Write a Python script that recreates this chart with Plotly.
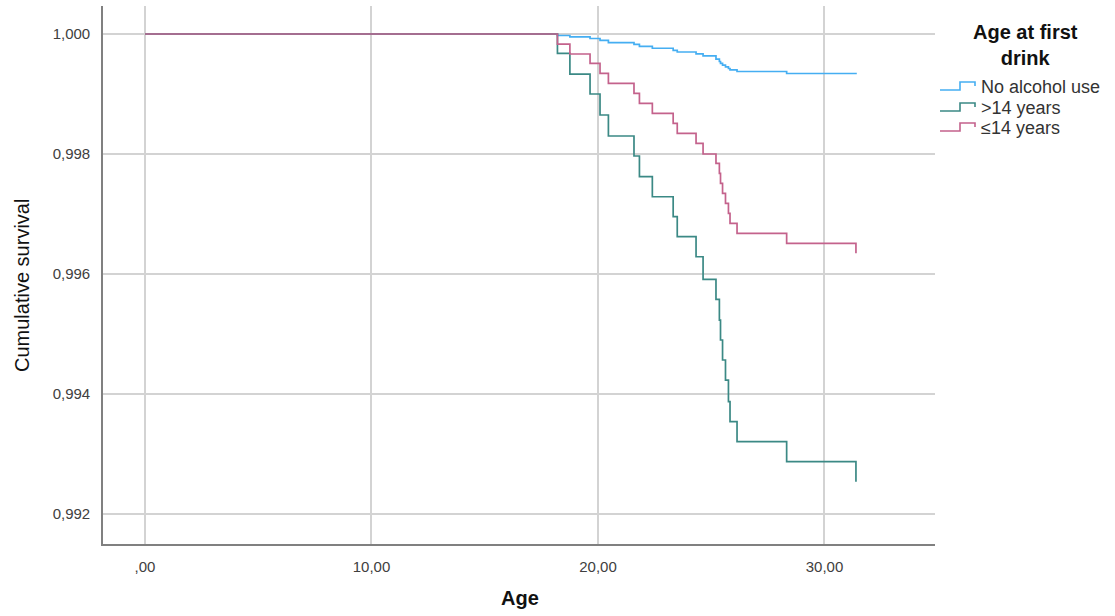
import plotly.graph_objects as go

# Event ages shared by the three Kaplan-Meier curves
event_age = [18.21, 18.76, 19.65, 20.09, 20.46, 21.59, 21.83, 22.40, 23.32, 23.50,
             24.33, 24.64, 25.21, 25.36, 25.41, 25.50, 25.63, 25.76, 25.83, 26.14,
             28.33, 31.39]

# Cumulative survival after each event
surv_no_alcohol = [0.999975, 0.999953, 0.999925, 0.999895, 0.999858, 0.999828, 0.999795,
                   0.999763, 0.999728, 0.999700, 0.999670, 0.999637, 0.999583, 0.999542,
                   0.999512, 0.999483, 0.999453, 0.999425, 0.999403, 0.999375, 0.999342,
                   0.999328]
surv_over14 = [0.999678, 0.999333, 0.999000, 0.998650, 0.998300, 0.997967, 0.997622,
               0.997288, 0.996955, 0.996622, 0.996288, 0.995912, 0.995578, 0.995233,
               0.994900, 0.994567, 0.994233, 0.993872, 0.993538, 0.993205, 0.992872,
               0.992538]
surv_under14 = [0.999833, 0.999667, 0.999512, 0.999345, 0.999178, 0.999012, 0.998845,
                0.998678, 0.998512, 0.998345, 0.998178, 0.998000, 0.997845, 0.997678,
                0.997512, 0.997345, 0.997178, 0.997012, 0.996845, 0.996678, 0.996512,
                0.996345]

group_names = ["No alcohol use", ">14 years", "\u226414 years"]
group_colors = ["#45aef2", "#3b8985", "#c4628c"]
group_surv = [surv_no_alcohol, surv_over14, surv_under14]

x_tickvals = [0, 10, 20, 30]
x_ticktext = [",00", "10,00", "20,00", "30,00"]
y_tickvals = [0.992, 0.994, 0.996, 0.998, 1.000]
y_ticktext = ["0,992", "0,994", "0,996", "0,998", "1,000"]

W, H = 1115, 616
L, R, T, B = 103, 180, 6, 72
pw, ph = W - L - R, H - T - B


def px(xp):
    return (xp - L) / pw


def py(yp):
    return (H - B - yp) / ph


fig = go.Figure()
for name, color, surv in zip(group_names, group_colors, group_surv):
    fig.add_trace(go.Scatter(
        x=[0.0] + event_age, y=[1.0] + surv, name=name, mode="lines",
        line=dict(color=color, width=1.7, shape="hv"), showlegend=False,
    ))

font_family = "Liberation Sans, Arial, sans-serif"
annotations = [
    dict(text="<b>Age</b>", x=px(520), y=py(598), xref="paper", yref="paper",
         showarrow=False, font=dict(family=font_family, size=20, color="#111"),
         xanchor="center", yanchor="middle"),
    dict(text="Cumulative survival", x=px(22), y=py(286), xref="paper", yref="paper",
         showarrow=False, textangle=-90,
         font=dict(family=font_family, size=20, color="#111"),
         xanchor="center", yanchor="middle"),
    dict(text="<b>Age at first<br>drink</b>", x=px(1025), y=py(45), xref="paper",
         yref="paper", showarrow=False, align="center",
         font=dict(family=font_family, size=20, color="#111"),
         xanchor="center", yanchor="middle"),
]

# Step-shaped legend glyphs with their labels
shapes = []
item_y = [87, 108, 128]
for name, color, ty in zip(group_names, group_colors, item_y):
    annotations.append(dict(
        text=name, x=px(979), y=py(ty), xref="paper", yref="paper", showarrow=False,
        font=dict(family=font_family, size=18, color="#333"),
        xanchor="left", yanchor="middle"))
    path = (f"M{px(940)},{py(ty + 3)} H{px(960)} V{py(ty - 5)} "
            f"H{px(975)} V{py(ty - 1)}")
    shapes.append(dict(type="path", path=path, xref="paper", yref="paper",
                       line=dict(color=color, width=1.6)))

fig.update_layout(
    width=W, height=H,
    margin=dict(l=L, r=R, t=T, b=B),
    paper_bgcolor="white", plot_bgcolor="white",
    annotations=annotations, shapes=shapes,
    showlegend=False,
)
fig.update_xaxes(
    range=[-1.854, 34.88], tickvals=x_tickvals, ticktext=x_ticktext,
    showgrid=True, gridcolor="#d3d3d3", gridwidth=1.6, zeroline=False,
    showline=True, linecolor="#808080", linewidth=1.6,
    ticks="outside", ticklen=8, tickcolor="rgba(0,0,0,0)",
    tickfont=dict(family=font_family, size=15, color="#404040"),
)
fig.update_yaxes(
    range=[0.9915, 1.000467], tickvals=y_tickvals, ticktext=y_ticktext,
    showgrid=True, gridcolor="#d3d3d3", gridwidth=1.6, zeroline=False,
    showline=True, linecolor="#808080", linewidth=1.6,
    ticks="outside", ticklen=8, tickcolor="rgba(0,0,0,0)",
    tickfont=dict(family=font_family, size=15, color="#404040"),
)

fig.write_html("out.html")
